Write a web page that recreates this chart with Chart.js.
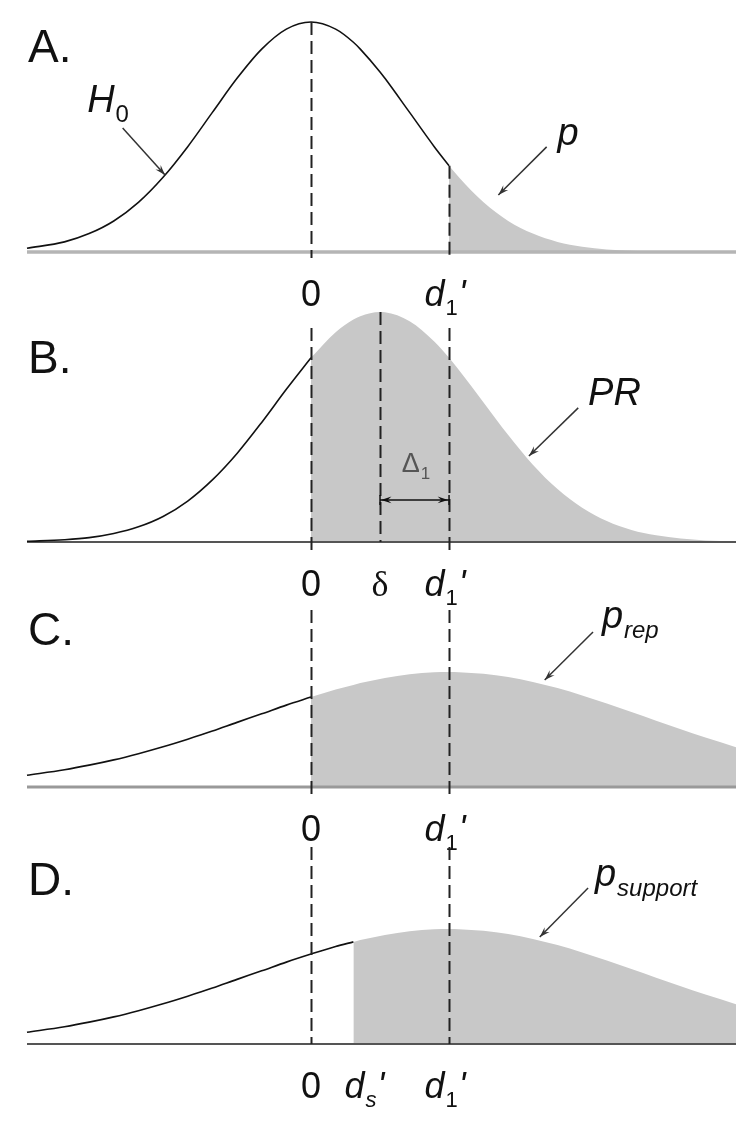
<!DOCTYPE html>
<html>
<head>
<meta charset="utf-8">
<script src="https://cdn.jsdelivr.net/npm/chart.js@4.4.1/dist/chart.umd.min.js"></script>
<style>
  body { margin: 0; background: #fff; width: 756px; height: 1130px; position: relative; overflow: hidden; }
  canvas { position: absolute; left: 0; }
</style>
</head>
<body>
<canvas id="cA" width="756" height="320" style="top:2px"></canvas>
<canvas id="cB" width="756" height="320" style="top:292px"></canvas>
<canvas id="cC" width="756" height="320" style="top:537px"></canvas>
<canvas id="cD" width="756" height="320" style="top:794px"></canvas>
<script>
// x positions, in units of the H0 standard deviation
const xs = [-2.88, -2.5, -2.25, -2, -1.75, -1.5, -1.25, -1, -0.75, -0.5, -0.25, 0, 0.25, 0.43, 0.5, 0.7, 0.75,
            1, 1.25, 1.4, 1.5, 1.75, 2, 2.25, 2.5, 2.75, 3, 3.25, 3.5, 3.75, 4, 4.31];

// curve heights (peak of H0 = 1)
const curveA = [0.016, 0.044, 0.080, 0.135, 0.216, 0.325, 0.458, 0.607, 0.755, 0.882, 0.969, 1.000, 0.969, 0.912, 0.882, 0.783, 0.755,
                0.607, 0.458, 0.375, 0.325, 0.216, 0.135, 0.080, 0.044, 0.023, 0.011, 0.005, 0.002, 0.001, 0.000, 0.000];
const curveB = [0.003, 0.010, 0.019, 0.037, 0.066, 0.111, 0.178, 0.270, 0.385, 0.520, 0.664, 0.801, 0.912, 0.967, 0.982, 1.000, 0.999,
                0.960, 0.872, 0.801, 0.748, 0.607, 0.465, 0.336, 0.230, 0.149, 0.091, 0.052, 0.029, 0.015, 0.007, 0.003];
const curveC = [0.051, 0.075, 0.095, 0.118, 0.145, 0.175, 0.208, 0.243, 0.281, 0.318, 0.356, 0.391, 0.424, 0.444, 0.452, 0.470, 0.474,
                0.490, 0.499, 0.500, 0.499, 0.492, 0.478, 0.457, 0.430, 0.398, 0.363, 0.326, 0.288, 0.251, 0.215, 0.173];
const curveD = curveC;

// marked points on the x axis
const d1 = 1.4, delta = 0.7, ds = 0.43;
const tickValsA = [0, d1],        tickLabelsA = ['0', "d_1'"];
const tickValsB = [0, delta, d1], tickLabelsB = ['0', 'δ', "d_1'"];
const tickValsC = [0, d1],        tickLabelsC = ['0', "d_1'"];
const tickValsD = [0, ds, d1],    tickLabelsD = ['0', "d_s'", "d_1'"];

const X_MIN = -2.88, X_MAX = 4.31;
const SANS = "'Liberation Sans', Arial, sans-serif";
const SERIF = "'Liberation Serif', 'Times New Roman', serif";
const FILL = '#c8c8c8';

const panels = [
  { id: 'cA', letter: 'A.', letterY: 60, curve: curveA, split: d1,
    tickVals: tickValsA, tickLabels: tickLabelsA, tickDx: [0, -4],
    base: { color: '#b5b5b5', width: 3.5 },
    dashes: [{ x: 0, top: 1.0, bottom: -0.026 }, { x: d1, top: 0.375, bottom: -0.026 }],
    notes: [
      { kind: 'text', s: 'H_0', x: -2.27, y: 0.609, size: 38 },
      { kind: 'arrow', x1: -1.91, y1: 0.539, x2: -1.48, y2: 0.335 },
      { kind: 'text', s: 'p', x: 2.50, y: 0.465, size: 38 },
      { kind: 'arrow', x1: 2.39, y1: 0.457, x2: 1.90, y2: 0.248 }
    ] },
  { id: 'cB', letter: 'B.', letterY: 81, curve: curveB, split: 0,
    tickVals: tickValsB, tickLabels: tickLabelsB, tickDx: [0, 0, -4],
    base: { color: '#555', width: 2 },
    dashes: [{ x: 0, top: 0.93, bottom: -0.056 }, { x: delta, top: 1.0, bottom: 0 }, { x: d1, top: 0.93, bottom: -0.056 }],
    notes: [
      { kind: 'text', s: 'PR', x: 2.81, y: 0.596, size: 38 },
      { kind: 'arrow', x1: 2.71, y1: 0.583, x2: 2.21, y2: 0.374 },
      { kind: 'span', xa: delta, xb: d1, y: 0.183 },
      { kind: 'text', s: 'Δ_1', x: 0.92, y: 0.304, size: 27, color: '#555' }
    ] },
  { id: 'cC', letter: 'C.', letterY: 108, curve: curveC, split: 0,
    tickVals: tickValsC, tickLabels: tickLabelsC, tickDx: [0, -4],
    base: { color: '#999', width: 3 },
    dashes: [{ x: 0, top: 0.77, bottom: -0.057 }, { x: d1, top: 0.77, bottom: -0.057 }],
    notes: [
      { kind: 'text', s: 'p_rep', x: 2.95, y: 0.691, size: 38 },
      { kind: 'arrow', x1: 2.86, y1: 0.674, x2: 2.37, y2: 0.465 }
    ] },
  { id: 'cD', letter: 'D.', letterY: 101, curve: curveD, split: ds,
    tickVals: tickValsD, tickLabels: tickLabelsD, tickDx: [0, 11, -4],
    base: { color: '#555', width: 2 },
    dashes: [{ x: 0, top: 0.857, bottom: 0 }, { x: d1, top: 0.857, bottom: 0 }],
    notes: [
      { kind: 'text', s: 'p_support', x: 2.88, y: 0.687, size: 38 },
      { kind: 'arrow', x1: 2.81, y1: 0.678, x2: 2.32, y2: 0.465 }
    ] }
];

function pts(curve, from, to) {
  const out = [];
  xs.forEach((x, i) => { if (x >= from && x <= to) out.push({ x: x, y: curve[i] }); });
  return out;
}

// font for one piece of a math label
function fontFor(t, size) {
  if (/^[0-9]+$/.test(t) || t === 'Δ') return size + 'px ' + SANS;
  if (/[α-ω]/.test(t)) return size + 'px ' + SERIF;
  return 'italic ' + size + 'px ' + SANS;
}

// draws things like "d_1'" : main part, subscript, prime
function mathText(ctx, s, x, y, size, align, color) {
  const m = s.match(/^([^_']+)(?:_([^']+))?('?)$/);
  const main = m[1], sub = m[2] || '', prime = m[3];
  const subSize = Math.round(size * 0.62);
  const parts = [{ t: main, f: fontFor(main, size), dy: 0 }];
  if (sub) parts.push({ t: sub, f: fontFor(sub, subSize), dy: size * 0.26, gap: 1 });
  if (prime) parts.push({ t: "'", f: 'italic ' + size + 'px ' + SANS, dy: 0, gap: 1 });
  let w = 0;
  parts.forEach(p => { ctx.font = p.f; p.w = ctx.measureText(p.t).width; w += p.w + (p.gap || 0); });
  let cx = align === 'center' ? x - w / 2 : x;
  ctx.fillStyle = color || '#111';
  ctx.textAlign = 'left';
  ctx.textBaseline = 'alphabetic';
  parts.forEach(p => {
    cx += p.gap || 0;
    ctx.font = p.f;
    ctx.fillText(p.t, cx, y + p.dy);
    cx += p.w;
  });
}

function head(ctx, x1, y1, x2, y2) {
  const a = Math.atan2(y2 - y1, x2 - x1), L = 11, W = 0.32;
  ctx.beginPath();
  ctx.moveTo(x2, y2);
  ctx.lineTo(x2 - L * Math.cos(a - W), y2 - L * Math.sin(a - W));
  ctx.lineTo(x2 - L * 0.6 * Math.cos(a), y2 - L * 0.6 * Math.sin(a));
  ctx.lineTo(x2 - L * Math.cos(a + W), y2 - L * Math.sin(a + W));
  ctx.closePath();
  ctx.fill();
}

function overlay(p) {
  return {
    id: 'overlay' + p.id,
    afterDraw(chart) {
      const ctx = chart.ctx, sx = chart.scales.x, sy = chart.scales.y;
      const y0 = sy.getPixelForValue(0);
      ctx.save();

      // dashed verticals
      ctx.strokeStyle = '#222';
      ctx.lineWidth = 2;
      ctx.setLineDash([13, 6]);
      p.dashes.forEach(d => {
        const px = Math.round(sx.getPixelForValue(d.x)) + 0.5;
        ctx.beginPath();
        ctx.moveTo(px, sy.getPixelForValue(d.top));
        ctx.lineTo(px, sy.getPixelForValue(d.bottom));
        ctx.stroke();
      });
      ctx.setLineDash([]);

      // labels under the axis
      p.tickVals.forEach((v, i) => {
        mathText(ctx, p.tickLabels[i], sx.getPixelForValue(v) + p.tickDx[i], y0 + 54, 36, 'center');
      });

      // panel letter
      ctx.font = '46px ' + SANS;
      ctx.fillStyle = '#111';
      ctx.textAlign = 'left';
      ctx.fillText(p.letter, 28, p.letterY);

      // notes: labels and arrows
      ctx.strokeStyle = '#333';
      ctx.fillStyle = '#333';
      ctx.lineWidth = 1.5;
      p.notes.forEach(n => {
        if (n.kind === 'text') {
          mathText(ctx, n.s, sx.getPixelForValue(n.x), sy.getPixelForValue(n.y), n.size, 'left', n.color);
        } else if (n.kind === 'arrow') {
          const x1 = sx.getPixelForValue(n.x1), y1 = sy.getPixelForValue(n.y1);
          const x2 = sx.getPixelForValue(n.x2), y2 = sy.getPixelForValue(n.y2);
          ctx.strokeStyle = '#333'; ctx.fillStyle = '#333';
          ctx.beginPath(); ctx.moveTo(x1, y1); ctx.lineTo(x2, y2); ctx.stroke();
          head(ctx, x1, y1, x2, y2);
        } else if (n.kind === 'span') {
          const xa = sx.getPixelForValue(n.xa), xb = sx.getPixelForValue(n.xb), yy = sy.getPixelForValue(n.y);
          ctx.strokeStyle = '#111'; ctx.fillStyle = '#111';
          ctx.beginPath(); ctx.moveTo(xa, yy); ctx.lineTo(xb, yy); ctx.stroke();
          ctx.beginPath(); ctx.moveTo(xa, yy - 5); ctx.lineTo(xa, yy + 5); ctx.moveTo(xb, yy - 5); ctx.lineTo(xb, yy + 5); ctx.stroke();
          head(ctx, xb, yy, xa + 1, yy);
          head(ctx, xa, yy, xb - 1, yy);
        }
      });
      ctx.restore();
    }
  };
}

function makeChart(p) {
  const cv = document.getElementById(p.id);
  return new Chart(cv, {
    type: 'line',
    data: {
      datasets: [
        { data: pts(p.curve, p.split, X_MAX), fill: 'origin', backgroundColor: FILL, borderWidth: 0,
          pointRadius: 0, cubicInterpolationMode: 'monotone', order: 3 },
        { data: [{ x: X_MIN, y: 0 }, { x: X_MAX, y: 0 }], borderColor: p.base.color, borderWidth: p.base.width,
          pointRadius: 0, fill: false, order: 2 },
        { data: pts(p.curve, X_MIN, p.split), borderColor: '#111', borderWidth: 1.6, pointRadius: 0,
          fill: false, cubicInterpolationMode: 'monotone', order: 1 }
      ]
    },
    options: {
      responsive: false,
      animation: false,
      events: [],
      clip: false,
      layout: { padding: { left: 27, right: 20, top: 20, bottom: 70 } },
      plugins: { legend: { display: false }, tooltip: { enabled: false } },
      scales: {
        x: { type: 'linear', min: X_MIN, max: X_MAX, display: false },
        y: { min: 0, max: 1, display: false }
      }
    },
    plugins: [overlay(p)]
  });
}

panels.forEach(makeChart);
</script>
</body>
</html>
